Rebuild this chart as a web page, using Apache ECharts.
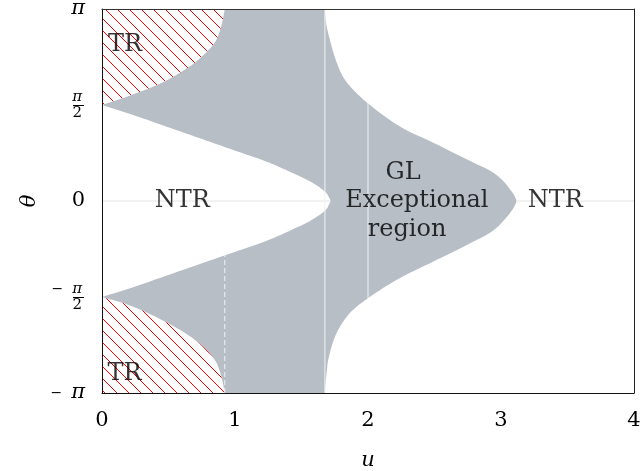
<!DOCTYPE html>
<html><head><meta charset="utf-8">
<script src="https://cdn.jsdelivr.net/npm/echarts@6/dist/echarts.min.js"></script>
<style>html,body{margin:0;padding:0;background:#fff}#c{width:641px;height:471px}</style>
</head><body><div id="c"></div>
<script>
// ---- data (u, theta) ----
const xTicks = [0, 1, 2, 3, 4];
const yTickValues = [-3.14159, -1.5708, 0, 1.5708, 3.14159];
const yTickLabels = ['{m|−}{p|π}', '{m|−}{n|π}\n{d|2}', '0', '{n|π}\n{d|2}', '{p|π}'];
const fractionTicks = [-1.5708, 1.5708];

// left NTR boundary (white region bounded by gray)
const innerUpper = [[0,1.571],[0.235,1.407],[0.486,1.216],[0.737,1.026],[0.987,0.834],[1.238,0.643],[1.438,0.453],[1.589,0.290],[1.689,0.126],[1.706,0.06],[1.718,0]];
const innerLower = [[0,-1.571],[0.235,-1.41],[0.486,-1.22],[0.737,-1.03],[0.923,-0.89],[1.238,-0.65],[1.438,-0.46],[1.589,-0.295],[1.689,-0.13],[1.706,-0.06],[1.718,0]];
// TR (hatched) boundaries
const trUpper = [[0,1.571],[0.192,1.711],[0.446,1.931],[0.697,2.263],[0.847,2.59],[0.885,2.775],[0.908,2.966],[0.923,3.1416]];
const trLower = [[0,-1.571],[0.194,-1.697],[0.446,-1.942],[0.697,-2.27],[0.847,-2.597],[0.885,-2.78],[0.908,-2.973],[0.923,-3.1416]];
// right NTR boundary
const rightUpper = [[1.676,3.1416],[1.68,3.0],[1.69,2.85],[1.714,2.634],[1.753,2.338],[1.812,2.034],[1.889,1.821],[1.993,1.609],[2.241,1.217],[2.49,0.955],[2.746,0.677],[2.942,0.464],[3.02,0.32],[3.07,0.185],[3.1,0.09],[3.115,0]];
const rightLower = [[1.676,-3.1416],[1.68,-3.0],[1.69,-2.8],[1.701,-2.597],[1.764,-2.160],[1.864,-1.833],[2.002,-1.587],[2.241,-1.26],[2.492,-0.99],[2.743,-0.72],[2.944,-0.48],[3.02,-0.32],[3.07,-0.19],[3.1,-0.09],[3.115,0]];
// white guide lines
const asymptoteLine = [[1.676,-3.1416],[1.676,3.1416]];
const uTwoLine = [[2,-1.587],[2,1.609]];
const dashedLine = [[0.923,-3.1416],[0.923,-0.89]];
const zeroLine = [[0,0],[4,0]];
// region annotations
const annoText = ['TR', 'TR', 'NTR', 'NTR', 'GL', 'Exceptional', 'region'];
const annoU = [0.173, 0.169, 0.603, 3.409, 2.264, 2.367, 2.294];
const annoT = [2.557, -2.82, 0.0, 0.0, 0.47, 0.0, -0.47];

const FONT = 'DejaVu Serif';
const INK = '#000';

// hatch pattern
const S = 12;
const hatch = document.createElement('canvas');
hatch.width = S; hatch.height = S;
(function(){const c = hatch.getContext('2d');c.strokeStyle='#ff0000';c.lineWidth=1;
 for (const k of [-S,0,S]) {c.beginPath();c.moveTo(k,0);c.lineTo(k+S,S);c.stroke();}})();

// centripetal Catmull-Rom smoothing of a pixel-space polyline (rendering only)
function smooth(px, steps) {
  const n = px.length, out = [px[0]];
  const d = (a, b) => Math.pow(Math.hypot(b[0]-a[0], b[1]-a[1]) || 1e-6, 0.5);
  for (let i = 0; i < n - 1; i++) {
    const P1 = px[i], P2 = px[i+1];
    const P0 = i > 0 ? px[i-1] : [2*P1[0]-P2[0], 2*P1[1]-P2[1]];
    const P3 = i < n-2 ? px[i+2] : [2*P2[0]-P1[0], 2*P2[1]-P1[1]];
    const t0 = 0, t1 = t0 + d(P0,P1), t2 = t1 + d(P1,P2), t3 = t2 + d(P2,P3);
    for (let s = 1; s <= steps; s++) {
      const t = t1 + (t2 - t1) * s / steps;
      const L = (a, b, ta, tb) => [(tb-t)/(tb-ta)*a[0] + (t-ta)/(tb-ta)*b[0], (tb-t)/(tb-ta)*a[1] + (t-ta)/(tb-ta)*b[1]];
      const A1 = L(P0,P1,t0,t1), A2 = L(P1,P2,t1,t2), A3 = L(P2,P3,t2,t3);
      const B1 = L(A1,A2,t0,t2), B2 = L(A2,A3,t1,t3);
      out.push(L(B1,B2,t1,t2));
    }
  }
  return out;
}

const innerCurve = innerUpper.concat(innerLower.slice(0, -1).reverse());
const rightCurve = rightLower.concat(rightUpper.slice(0, -1).reverse());
const grayCurves = [innerCurve, trLower, rightCurve, trUpper.slice().reverse()];
const hatchUpperCurves = [trUpper, [[0,3.1416]]];
const hatchLowerCurves = [trLower, [[0,-3.1416]]];

function polySeries(name, curves, fill, z) {
  return {
    name, type: 'custom', coordinateSystem: 'cartesian2d', z, silent: true,
    data: [[0, 0]],
    renderItem: function (params, api) {
      let pts = [];
      curves.forEach(c => {
        const px = c.map(p => api.coord(p));
        pts = pts.concat(px.length > 2 ? smooth(px, 10) : px);
      });
      return { type: 'polygon', shape: { points: pts }, style: { fill: fill } };
    }
  };
}
function lineSeries(name, data, color, type, z) {
  return { name, type: 'line', data, symbol: 'none', silent: true, z,
    lineStyle: { color, width: 1, type } };
}

const chart = echarts.init(document.getElementById('c'), null, { renderer: 'canvas' });
chart.setOption({
  animation: false,
  backgroundColor: '#fff',
  grid: { left: 102, right: 7, top: 9, bottom: 78, containLabel: false, outerBoundsMode: 'none' },
  xAxis: [{
    type: 'value', min: 0, max: 4, interval: 1, position: 'bottom', z: 10,
    axisLine: { show: true, onZero: false, lineStyle: { color: '#111', width: 1 } },
    axisTick: { show: false }, splitLine: { show: false },
    axisLabel: { fontFamily: FONT, fontSize: 21, color: INK, margin: 17 },
    name: 'u', nameLocation: 'middle', nameGap: 57,
    nameTextStyle: { fontFamily: FONT, fontStyle: 'italic', fontSize: 21, color: INK }
  }, {
    type: 'value', min: 0, max: 4, position: 'top', z: 10,
    axisLine: { show: true, onZero: false, lineStyle: { color: '#333', width: 1 } },
    axisTick: { show: false }, splitLine: { show: false }, axisLabel: { show: false }
  }],
  yAxis: [{
    type: 'value', min: -3.14159, max: 3.14159, position: 'left', z: 10,
    axisLine: { show: true, onZero: false, lineStyle: { color: '#111', width: 1 } },
    axisTick: { show: false, customValues: yTickValues }, splitLine: { show: false },
    axisLabel: {
      customValues: yTickValues, margin: 17, color: INK, fontFamily: FONT, fontSize: 21, lineHeight: 16,
      formatter: function (v) {
        let best = 0;
        for (let i = 0; i < yTickValues.length; i++) if (Math.abs(yTickValues[i] - v) < Math.abs(yTickValues[best] - v)) best = i;
        return yTickLabels[best];
      },
      rich: {
        m: { fontFamily: FONT, fontSize: 14, color: INK, padding: [0, 9, 0, 0], lineHeight: 16 },
        p: { fontFamily: FONT, fontStyle: 'italic', fontSize: 21, color: INK, lineHeight: 16 },
        n: { fontFamily: FONT, fontStyle: 'italic', fontSize: 15, color: INK, lineHeight: 16, padding: [0, 3, 0, 0] },
        d: { fontFamily: FONT, fontSize: 15, color: INK, lineHeight: 16, padding: [0, 3, 0, 0] }
      }
    },
    name: 'θ', nameLocation: 'middle', nameGap: 62, nameRotate: 90,
    nameTextStyle: { fontFamily: FONT, fontStyle: 'italic', fontSize: 21, color: INK }
  }, {
    type: 'value', min: -3.14159, max: 3.14159, position: 'right', z: 10,
    axisLine: { show: true, onZero: false, lineStyle: { color: '#222', width: 1 } },
    axisTick: { show: false }, splitLine: { show: false }, axisLabel: { show: false }
  }, {
    // fraction bars of the π/2 tick labels
    type: 'value', min: -3.14159, max: 3.14159, position: 'left', offset: 18, z: 10,
    axisLine: { show: false, onZero: false }, splitLine: { show: false }, axisLabel: { show: false },
    axisTick: { show: true, customValues: fractionTicks, length: 11, lineStyle: { color: INK, width: 1 } }
  }],
  series: [
    lineSeries('zero', zeroLine, '#e4e4e4', 'solid', 1),
    polySeries('gl', grayCurves, '#b8bec6', 2),
    polySeries('trUp', hatchUpperCurves, { image: hatch, repeat: 'repeat' }, 3),
    polySeries('trLo', hatchLowerCurves, { image: hatch, repeat: 'repeat' }, 3),
    lineSeries('asym', asymptoteLine, '#f2f2f2', 'solid', 4),
    lineSeries('u2', uTwoLine, '#f2f2f2', 'solid', 4),
    lineSeries('dash', dashedLine, '#f2f2f2', [5, 3], 4),
    {
      name: 'labels', type: 'scatter', z: 6, silent: true, symbolSize: 0.1,
      itemStyle: { color: 'rgba(0,0,0,0)' },
      data: annoText.map((t, i) => ({ name: t, value: [annoU[i], annoT[i]] })),
      label: { show: true, position: 'inside', formatter: p => p.name, fontFamily: FONT, fontSize: 24, color: INK }
    }
  ]
});
</script></body></html>
